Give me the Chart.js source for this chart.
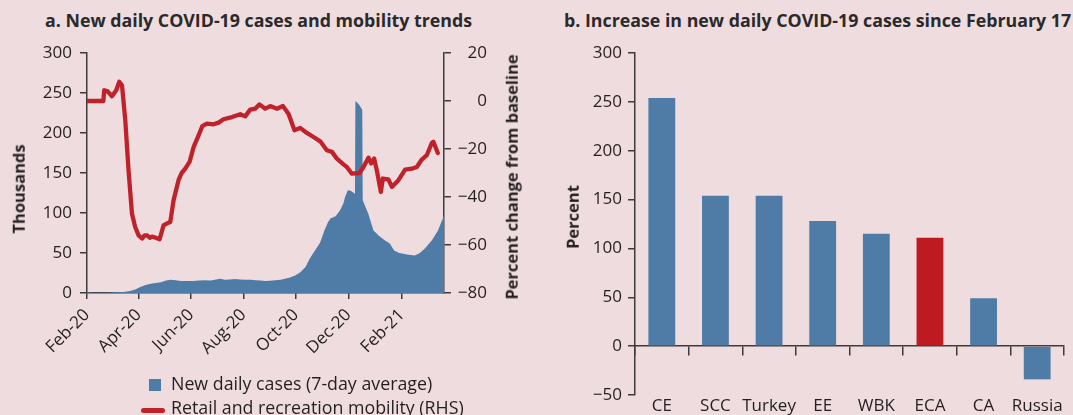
<!DOCTYPE html>
<html>
<head>
<meta charset="utf-8">
<script src="https://cdn.jsdelivr.net/npm/chart.js@4/dist/chart.umd.min.js"></script>
<style>
html,body{margin:0;padding:0;background:#efdcdf;width:1073px;height:415px;overflow:hidden;font-family:"Open Sans",sans-serif;color:#231f20}
.abs{position:absolute}
.title{font-weight:700;font-size:17.8px;line-height:17.8px;white-space:nowrap;color:#2b2a2a}
.vt{font-weight:700;font-size:16.5px;line-height:16.5px;white-space:nowrap;transform:translate(-50%,-50%) rotate(-90deg)}
.leg{font-size:17.8px;line-height:17.8px;white-space:nowrap}
</style>
</head>
<body>
<div class="abs title" style="left:45px;top:12.4px">a. New daily COVID-19 cases and mobility trends</div>
<div class="abs title" style="left:564px;top:12.4px">b. Increase in new daily COVID-19 cases since February 17</div>

<div class="abs" style="left:0;top:0;width:540px;height:415px"><canvas id="ca" width="540" height="415"></canvas></div>
<div class="abs" style="left:540px;top:0;width:533px;height:415px"><canvas id="cb" width="533" height="415"></canvas></div>

<div class="abs vt" style="left:19px;top:189px">Thousands</div>
<div class="abs vt" style="left:512px;top:177px">Percent change from baseline</div>
<div class="abs vt" style="left:573px;top:217px">Percent</div>

<div class="abs" style="left:149px;top:379px;width:11.5px;height:11.5px;background:#4f7ca6"></div>
<div class="abs leg" style="left:171px;top:375.2px">New daily cases (7-day average)</div>
<div class="abs" style="left:141px;top:407.5px;width:24px;height:5px;border-radius:2.5px;background:#c0222b"></div>
<div class="abs leg" style="left:171px;top:399px">Retail and recreation mobility (RHS)</div>

<script>
// ---- Panel a: days counted from 1 Feb 2020 ----
const tickDays   = [0, 60, 121, 182, 243, 304, 366];
const tickLabels = ['Feb-20', 'Apr-20', 'Jun-20', 'Aug-20', 'Oct-20', 'Dec-20', 'Feb-21'];

// New daily cases (7-day average), thousands
const caseDays = [0, 7, 14, 21, 28, 35, 42, 50, 56, 62, 68, 74, 80, 86, 92, 97, 103, 109, 116, 123, 130, 137, 144, 150, 155, 160, 166, 172, 178, 184, 190, 196, 202, 207, 213, 219, 225, 230, 236, 242, 248, 254, 259, 265, 271, 276, 280, 283, 289, 294, 298, 300, 303, 306, 309, 311.5, 312, 316, 320, 320.5, 327, 333, 339, 346, 352, 357, 363, 372, 381, 387, 393, 401, 408, 415];
const cases    = [0.8, 0.4, 0.2, 0.3, 0.6, 0.8, 1.2, 2.5, 4.5, 7.5, 10, 11.7, 12.5, 13.3, 15.5, 16.7, 16, 15, 15, 15, 15.5, 15.8, 15.5, 17, 17.9, 16.5, 16.8, 17.5, 17, 16.5, 16.7, 16, 15.5, 15, 15.2, 15.8, 16.5, 17.9, 19.5, 22, 26, 32.5, 43, 53, 63, 78, 88, 93, 96, 103, 112, 120, 128, 128, 126, 124, 240, 236, 229, 116, 99, 78, 72, 66, 62, 53, 50, 48, 47, 50, 56, 66, 78, 97];

// Retail and recreation mobility, percent change from baseline (RHS)
const mobilityDays = [0, 19, 20, 24, 29, 34, 37.5, 40.7, 44.5, 48.3, 52.3, 56, 60, 64, 67, 70, 73, 75.5, 80, 84.4, 89, 93, 96.8, 100.6, 106.4, 110, 114.2, 119.2, 123.9, 129.7, 134, 139.4, 147.1, 152.9, 158.7, 168.5, 178.1, 183.9, 189.7, 195.5, 200.5, 207.2, 213, 220.8, 227.7, 234.2, 241.2, 247.8, 255.6, 263.3, 271.1, 278.8, 284.7, 290.5, 298.1, 302.1, 307.9, 316.7, 321.4, 327.2, 330.3, 333.8, 336.9, 341.6, 343.9, 350.4, 354.4, 362, 369.8, 377.6, 383.4, 389.2, 395, 400.8, 402.7, 407.8];
const mobility     = [0, 0, 4.5, 4, 2, 4.5, 8, 6.5, -8, -29, -47, -52.5, -56, -57.3, -56, -56, -57, -56.5, -57, -57.6, -51.8, -51, -50.4, -41.4, -33, -30, -28.2, -25.4, -19.2, -14.3, -10.5, -9.4, -9.7, -9, -7.6, -6.7, -5.5, -6.4, -3.6, -3.2, -1.4, -3.2, -2.1, -3.2, -2.1, -5.3, -12.2, -11.2, -13.3, -15, -16.8, -20.5, -21.2, -24, -26.4, -27.5, -30.3, -30, -27.5, -23.6, -26, -24, -28.9, -37.9, -32.3, -32.7, -35.8, -33, -28.6, -28.2, -27.5, -24.4, -22.6, -17.5, -17, -21.7];

// ---- Panel b ----
const regions  = ['CE', 'SCC', 'Turkey', 'EE', 'WBK', 'ECA', 'CA', 'Russia'];
const increase = [254, 154, 154, 128, 115, 111, 49, -34];
const highlight = 'ECA';

const BLUE = '#4f7ca6', RED = '#c0222b', BAR_RED = '#bd1a21', AXIS = '#3d3b3b';
Chart.defaults.font.family = '"Open Sans", sans-serif';
Chart.defaults.font.size = 17;
Chart.defaults.color = '#231f20';
const minus = v => String(v).replace('-', '\u2212');

new Chart(document.getElementById('ca'), {
  type: 'line',
  data: {
    datasets: [
      {
        label: 'Retail and recreation mobility (RHS)',
        data: mobilityDays.map((d, i) => ({x: d, y: mobility[i]})),
        yAxisID: 'y1', borderColor: RED, borderWidth: 4.3, pointRadius: 0,
        fill: false, tension: 0, borderJoinStyle: 'round', borderCapStyle: 'round', order: 0
      },
      {
        label: 'New daily cases (7-day average)',
        data: caseDays.map((d, i) => ({x: d, y: cases[i]})),
        yAxisID: 'y', backgroundColor: BLUE, borderColor: BLUE, borderWidth: 0, pointRadius: 0,
        fill: 'origin', tension: 0, order: 1
      }
    ]
  },
  options: {
    responsive: false, animation: false, devicePixelRatio: 1,
    layout: {padding: {top: 53, left: 0, right: 53, bottom: 0}},
    plugins: {legend: {display: false}, tooltip: {enabled: false}},
    scales: {
      x: {
        type: 'linear', min: 0, max: 415,
        afterBuildTicks: s => { s.ticks = tickDays.map(v => ({value: v})); },
        ticks: {callback: (v, i) => tickLabels[i], minRotation: 45, maxRotation: 45, autoSkip: false, padding: 6},
        grid: {drawOnChartArea: false, tickLength: 6, color: AXIS, lineWidth: 1.5},
        border: {color: AXIS, width: 1.5},
        afterFit: s => { s.height = 122; }
      },
      y: {
        position: 'left', min: 0, max: 300,
        ticks: {stepSize: 50, padding: 8},
        grid: {drawOnChartArea: false, tickLength: 7, color: AXIS, lineWidth: 1.5},
        border: {color: AXIS, width: 1.5},
        afterFit: s => { s.width = 87; }
      },
      y1: {
        position: 'right', min: -80, max: 20,
        ticks: {stepSize: 20, padding: 5, crossAlign: 'far', callback: minus},
        grid: {drawOnChartArea: false, tickLength: 7, color: AXIS, lineWidth: 1.5},
        border: {color: AXIS, width: 1.5},
        afterFit: s => { s.width = 43; }
      }
    }
  }
});

new Chart(document.getElementById('cb'), {
  type: 'bar',
  data: {
    labels: regions,
    datasets: [{
      label: 'Increase since February 17',
      data: increase,
      backgroundColor: regions.map(r => r === highlight ? BAR_RED : BLUE),
      borderWidth: 0, barPercentage: 0.5, categoryPercentage: 1
    }]
  },
  options: {
    responsive: false, animation: false, devicePixelRatio: 1,
    layout: {padding: {top: 53, left: 0, right: 9, bottom: 0}},
    plugins: {legend: {display: false}, tooltip: {enabled: false}},
    scales: {
      x: {
        position: 'bottom',
        grid: {display: false, drawTicks: false},
        border: {display: false},
        ticks: {padding: 1, autoSkip: false, maxRotation: 0},
        afterFit: s => { s.height = 20; }
      },
      x2: {
        type: 'category', axis: 'x', position: {y: 0},
        grid: {drawOnChartArea: false, offset: true, tickLength: 9, color: AXIS, lineWidth: 1.5},
        border: {color: AXIS, width: 1.5},
        ticks: {display: false}
      },
      y: {
        min: -50, max: 300,
        ticks: {stepSize: 50, padding: 6, callback: minus},
        grid: {drawOnChartArea: false, tickLength: 7, color: AXIS, lineWidth: 1.5},
        border: {color: AXIS, width: 1.5},
        afterFit: s => { s.width = 95; }
      }
    }
  }
});
</script>
</body>
</html>
